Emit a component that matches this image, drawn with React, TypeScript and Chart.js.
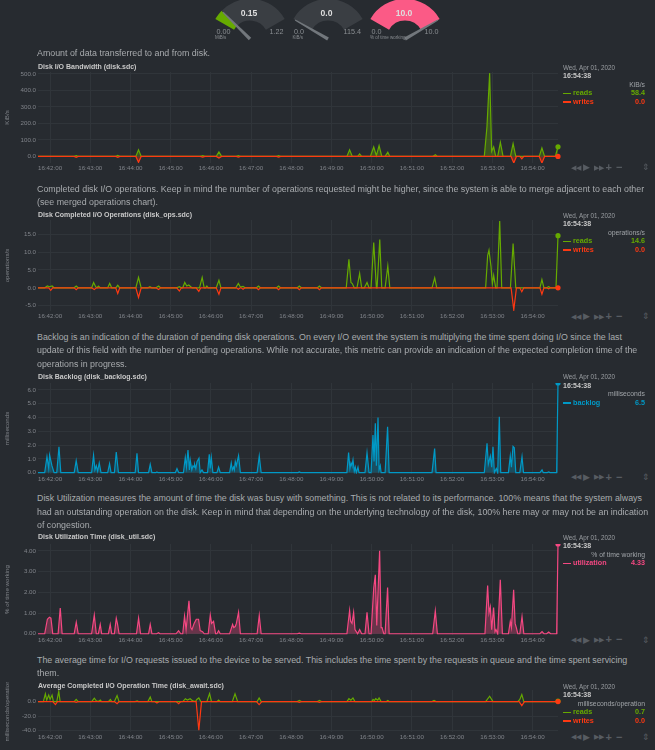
import React, { useEffect, useRef } from 'react';
import { Chart, registerables } from 'chart.js';

Chart.register(...registerables);

const FONT = "'Liberation Sans', Arial, Helvetica, sans-serif";
const BG = '#272b30';
const GRID = '#30353a';
const TICK = '#80848a';
const DESC = '#a8abae';
const TITLE = '#c8c8c8';
const BAND = '#3a3e43';
const NEEDLE = '#72777c';

const GREEN = '#66AA00';
const RED = '#FE3912';
const BLUE = '#0099C6';
const PINK = '#F54882';

// time axis: seconds relative to 16:42:00
const timeStart = -18;
const timeEnd = 758;
const xTickLabels = [
  '16:42:00', '16:43:00', '16:44:00', '16:45:00', '16:46:00', '16:47:00', '16:48:00',
  '16:49:00', '16:50:00', '16:51:00', '16:52:00', '16:53:00', '16:54:00',
];

const legendDate = 'Wed, Apr 01, 2020';
const legendTime = '16:54:38';

// gauges
const gaugeUnits = ['MiB/s', 'KiB/s', '% of time working'];
const gaugeValues = [0.15, 0.0, 10.0];
const gaugeMin = [0, 0, 0];
const gaugeMax = [1.22, 115.4, 10.0];
const gaugeDecimals = [2, 1, 1];
const gaugeColors = [GREEN, '#8a8a8a', '#fb5a86'];

// disk.sdc bandwidth, KiB/s  [seconds, value]
const bwReads: [number, number][] = [
  [-18, 0], [36, 0], [39, 5], [42, 0], [98, 0], [101, 6], [104, 0], [128, 0], [132, 40], [136, 0],
  [224, 0], [228, 5], [231, 0], [248, 0], [252, 27], [256, 0], [278, 0], [281, 5], [284, 0],
  [338, 0], [341, 5], [344, 0], [443, 0], [447, 40], [451, 0], [459, 0], [462, 15], [465, 0],
  [478, 0], [483, 57], [487, 5], [491, 65], [495, 0], [500, 0], [504, 25], [507, 0],
  [571, 0], [575, 10], [578, 0], [648, 0], [652, 180], [656, 505], [659, 30], [662, 57], [665, 0],
  [668, 0], [672, 85], [676, 0], [687, 0], [691, 77], [695, 0], [730, 0], [734, 51], [738, 0],
  [754, 0], [758, 58.4],
];
const bwWrites: [number, number][] = [
  [-18, 0], [36, 0], [39, -5], [42, 0], [98, 0], [101, -6], [104, 0], [128, 0], [132, -36], [136, 0],
  [224, 0], [228, -4], [231, 0], [248, 0], [252, -10], [256, 0], [278, 0], [281, -4], [284, 0],
  [338, 0], [341, -4], [344, 0], [688, 0], [692, -40], [696, 0], [701, 0], [704, -15], [707, 0],
  [730, 0], [734, -40], [738, 0], [758, 0],
];

// completed operations, operations/s
const opsReads: [number, number][] = [
  [-18, 0], [-8, 0], [-4, 0.5], [-1, 0.3], [3, 0.5], [6, 0], [36, 0], [39, 0.5], [42, 0],
  [62, 0], [65, 1.5], [68, 0.3], [70, 0], [72, 0.5], [75, 0], [86, 0], [89, 1.2], [92, 0],
  [98, 0], [101, 0.7], [104, 0], [128, 0], [132, 2.9], [136, 0], [146, 0], [149, 0.3], [152, 0],
  [158, 0], [162, 0.5], [165, 0], [189, 0], [193, 0.3], [196, 0],
  [198, 0], [201, 1.5], [204, 0.5], [207, 0.8], [210, 0.3], [212, 0],
  [223, 0], [227, 2.9], [230, 0], [232, 0], [234, 0.5], [236, 0], [248, 0], [252, 2.1], [255, 0],
  [277, 0], [281, 1.2], [284, 0.2], [288, 0.4], [291, 0], [308, 0], [311, 0.5], [314, 0],
  [338, 0], [341, 0.5], [344, 0], [369, 0], [372, 0.5], [375, 0], [399, 0], [402, 0.5], [405, 0],
  [442, 0], [446, 8], [449, 1.5], [451, 1.2], [454, 0], [458, 0], [462, 4], [465, 0],
  [469, 0], [473, 1.5], [476, 0], [479, 0], [483, 12.7], [487, 0], [488, 0], [492, 13.5], [495, 0],
  [500, 0], [504, 6.1], [507, 0], [570, 0], [574, 2.8], [577, 0],
  [650, 0], [653, 9], [655, 10.5], [658, 6], [660, 1], [662, 3.5], [665, 0],
  [667, 0], [671, 18.7], [674, 0], [687, 0], [691, 12.4], [695, 0],
  [731, 0], [734, 2.3], [737, 0], [741, 0], [744, 0.3], [747, 0], [755, 0], [758, 14.6],
];
const opsWrites: [number, number][] = [
  [-18, 0], [-2, 0], [1, -0.7], [4, 0], [36, 0], [39, -0.5], [42, 0], [62, 0], [66, -0.5], [69, 0],
  [98, 0], [101, -1.6], [104, 0], [128, 0], [132, -2.7], [136, 0], [158, 0], [162, -0.5], [165, 0],
  [189, 0], [193, -0.9], [196, 0], [218, 0], [222, -1], [225, 0], [248, 0], [252, -1.8], [255, 0],
  [278, 0], [281, -0.4], [284, 0], [285, 0], [288, -0.4], [291, 0], [308, 0], [311, -0.5], [314, 0],
  [338, 0], [341, -0.5], [344, 0], [369, 0], [372, -0.5], [375, 0], [399, 0], [402, -0.5], [405, 0],
  [688, 0], [692, -6.2], [696, 0], [701, 0], [704, -1.1], [707, 0], [731, 0], [734, -1.8], [737, 0],
  [741, 0], [744, -0.3], [747, 0], [758, 0],
];

// backlog, milliseconds
const backlog: [number, number][] = [
  [-18, 0], [-8, 0], [-4.6, 1.16], [-2, 0.3], [-0.7, 1.28], [2.8, 0.5], [6, 0], [10, 0], [13.3, 1.88], [16, 0],
  [36, 0], [39, 0.87], [42, 0], [62, 0], [64.9, 1.26], [67, 0.2], [69, 0.5], [71, 0.1], [73.4, 0.7], [76, 0],
  [86, 0], [88.8, 0.65], [91, 0], [96, 0], [98.8, 1.5], [102, 0], [127, 0], [129.7, 1.4], [132, 0],
  [147, 0], [149.5, 0.6], [152, 0], [158, 0], [159.5, 0.05], [161, 0], [187, 0], [189.4, 0.3], [192, 0],
  [199, 0], [201.8, 1.1], [203.5, 0.4], [205.8, 1.64], [208, 0.2], [209.2, 0.9], [211.5, 0.2], [213.3, 0.5],
  [215, 0.4], [215.7, 0.6], [217.5, 0.3], [219.3, 0.8], [222.2, 1.05], [224, 0], [226.7, 0.2], [229, 0],
  [235, 0], [237.6, 1.33], [239, 0.3], [240.6, 1.1], [243, 0], [249, 0], [251.5, 0.4], [254, 0],
  [268, 0], [270.4, 0.7], [272, 0.2], [273.9, 0.4], [275, 0.2], [276.4, 0.8], [278, 0.5], [281.3, 1.22], [284, 0],
  [309, 0], [312.2, 1.2], [315, 0], [370, 0], [372, 0.05], [374, 0],
  [443, 0], [445.5, 1.45], [447.5, 0.3], [449.1, 0.7], [450.5, 0.5], [452.1, 0.92], [454, 0.1], [455.5, 0.4], [457, 0],
  [458, 0], [459.5, 0.4], [461, 0], [470, 0], [473, 1.45], [476, 0],
  [479, 0], [481.9, 2.73], [483.5, 0.8], [485.4, 3.58], [487, 0.5], [489.4, 3.99], [491, 0.2], [492.8, 0.5], [494, 0],
  [500, 0], [503.7, 3.33], [506, 0], [570, 0], [573.9, 1.74], [576, 0],
  [648, 0], [652.1, 2.13], [654, 0.6], [657, 1.2], [659, 0.4], [661, 1.88], [663, 0], [666, 0.3], [668, 0],
  [670.4, 4.06], [672.5, 0], [684, 0], [686.8, 1.2], [688.5, 0.4], [690.9, 1.9], [692.8, 1.8], [695, 0],
  [701, 0], [704.3, 1.16], [706.5, 0], [731, 0], [734.2, 0.2], [736, 0], [742, 0], [744.1, 0.05], [746, 0],
  [756, 0], [758, 6.5],
];

// utilization, % of time working
const utilization: [number, number][] = [
  [-18, 0], [-8, 0], [-4, 0.7], [-1, 0.8], [1.3, 0.75], [4, 0], [12, 0], [15.2, 1.24], [18, 0],
  [36, 0], [39.1, 0.56], [42, 0], [62, 0], [66, 0.9], [69, 0], [72, 0], [74.9, 0.45], [77, 0],
  [87, 0], [89.8, 0.45], [92, 0], [96, 0], [98.8, 0.75], [100.5, 0.5], [103, 0], [129, 0], [132.1, 0.75], [135, 0],
  [147, 0], [149.5, 0.45], [152, 0], [159, 0], [161.9, 0.05], [164, 0], [188, 0], [191.8, 0.15], [195, 0],
  [198, 0], [200.7, 0.85], [203, 0.2], [207.3, 1.59], [210, 0.3], [211.8, 0.2], [215, 0.5], [218.2, 0.7],
  [221.6, 0.7], [224, 0.15], [227.6, 0.1], [230, 0], [236, 0], [239.1, 0.9], [241, 0.5], [244, 0.6], [247, 0],
  [249, 0], [251.5, 0.15], [254, 0], [268, 0], [272.4, 0.45], [274, 0.3], [276.4, 0.35], [278, 0.5], [281.3, 1.04], [284, 0],
  [309, 0], [312.2, 0.88], [315, 0], [369, 0], [371.9, 0.03], [375, 0],
  [443, 0], [447, 1.12], [448.5, 0.6], [450.6, 0.5], [453, 1.03], [455, 0.2], [457, 0.1], [459, 0], [462, 0.2], [465, 0],
  [470, 0], [473, 1.03], [476, 0], [479, 0], [483, 2.2], [485.4, 2.84], [487.5, 0.4], [491.8, 4.0], [494, 0.3],
  [495.4, 0.3], [498, 0], [500, 0], [503.7, 2.23], [506, 0], [571, 0], [574.9, 1.1], [578, 0],
  [649, 0], [653, 2.33], [655, 1.0], [657, 1.3], [659, 0.2], [661.9, 1.27], [664, 0.1], [665.5, 0.2], [668, 0],
  [671.9, 2.6], [675, 0], [684, 0], [686.8, 0.6], [688.5, 0.3], [691.8, 2.12], [694, 0.5], [695.8, 0.3], [698, 0],
  [701, 0], [704.3, 0.83], [707, 0], [731, 0], [734.2, 0.1], [737, 0], [741, 0], [744.1, 0.08], [747, 0],
  [756, 0], [758, 4.33],
];

// average completed operation time, milliseconds/operation
const awaitReads: [number, number][] = [
  [-18, 0], [-10, 0], [-7, 10.6], [-5, 2], [-2, 9], [0, 3], [3, 9], [5, 0], [10, 0], [13, 14.2], [15, 0],
  [36, 0], [39, 3], [42, 0], [62, 0], [66, 4.6], [69, 1], [72, 0], [75, 2], [77, 0], [87, 0], [90, 3], [92, 0],
  [96, 0], [100, 8.3], [103, 0], [127, 0], [130, 1], [132, 0], [146, 0], [149.5, 6.4], [152, 0],
  [198, 0], [202, 4], [205, 2], [209, 4], [213, 1], [217, 0], [219, 3], [222, 5], [225, 0],
  [234, 0], [238, 11], [241, 0], [249, 0], [251.5, 2], [254, 0], [272, 0], [276, 10.6], [280, 0],
  [309, 0], [312, 5], [315, 0], [369, 0], [372, 1.5], [375, 0], [399, 0], [402, 1.5], [405, 0],
  [443, 0], [446, 4], [449, 2], [452, 5], [455, 0],
  [480, 0], [482, 3], [484, 1.5], [486, 4], [489, 2], [491, 5], [494, 0], [502, 0], [504, 1.5], [506, 0],
  [570, 0], [573, 1.5], [576, 0], [650, 0], [656, 7.4], [661, 0], [698, 0], [701, 3], [704, 9.7], [707, 0],
  [755, 0], [758, 0.7],
];
const awaitWrites: [number, number][] = [
  [-18, 0], [4, 0], [8, -4.1], [11, 0], [36, 0], [39, -1], [42, 0], [96, 0], [100, -3], [103, 0],
  [156, 0], [159.5, -2], [163, 0], [188, 0], [192, -2.8], [195, 0],
  [218, 0], [222, -39.6], [226, 0],
  [308, 0], [312, -4.1], [316, 0], [369, 0], [372, -1], [375, 0], [399, 0], [402, -1], [405, 0],
  [700, 0], [704, -5.5], [708, 0], [758, 0],
];

type Series = { name: string; color: string; points: [number, number][]; fill: boolean; order: number };

function rgba(hex: string, a: number) {
  const n = parseInt(hex.slice(1), 16);
  return `rgba(${(n >> 16) & 255},${(n >> 8) & 255},${n & 255},${a})`;
}

function Label(props: {
  x: number; y: number; size: number; color: string; bold?: boolean;
  align?: 'left' | 'right' | 'center'; children: React.ReactNode;
}) {
  const { x, y, size, color, bold, align = 'left', children } = props;
  const style: React.CSSProperties = {
    position: 'absolute',
    top: y - size * 0.6,
    fontSize: size,
    lineHeight: `${size * 1.2}px`,
    color,
    fontWeight: bold ? 700 : 400,
    whiteSpace: 'nowrap',
  };
  if (align === 'right') style.right = 655 - x;
  else style.left = x;
  if (align === 'center') style.transform = 'translateX(-50%)';
  return <div style={style}>{children}</div>;
}

// chart navigation buttons shown under each legend
function Controls({ y }: { y: number }) {
  const c = '#575c62';
  return (
    <>
      <Label x={571} y={y} size={7} color={c}>◀◀</Label>
      <Label x={582.5} y={y} size={9} color={c}>▶</Label>
      <Label x={593.5} y={y} size={7} color={c}>▶▶</Label>
      <Label x={605.5} y={y} size={11} bold color={c}>+</Label>
      <Label x={616} y={y} size={11} bold color={c}>−</Label>
      <Label x={642} y={y} size={9} color={c}>⇕</Label>
    </>
  );
}

type ChartProps = {
  top: number; height: number; titleY: number; descY: number; desc: string[];
  title: string; units: string; yTitle: string; series: Series[];
  yMin: number; yMax: number; yStep: number; yDecimals: number; valueDecimals: number; controlsY: number;
};

function DiskChart(p: ChartProps) {
  const ref = useRef<HTMLCanvasElement>(null);
  useEffect(() => {
    const canvas = ref.current;
    if (!canvas) return;
    const chart = new Chart(canvas, {
      type: 'line',
      data: {
        datasets: p.series.map((s) => ({
          label: s.name,
          data: s.points.map(([x, y]) => ({ x, y })),
          borderColor: s.color,
          backgroundColor: s.fill ? rgba(s.color, 0.32) : 'transparent',
          fill: s.fill ? 'origin' : false,
          borderWidth: 1.2,
          tension: 0,
          order: s.order,
          pointRadius: (c: any) => (c.dataIndex === s.points.length - 1 ? 2.6 : 0),
          pointBackgroundColor: s.color,
          pointBorderColor: s.color,
          pointBorderWidth: 0,
          pointHoverRadius: 0,
          clip: { left: 0, top: 0, right: 6, bottom: 0 },
        })),
      },
      options: {
        animation: false,
        responsive: false,
        maintainAspectRatio: false,
        events: [],
        layout: { padding: { top: 8, right: 4, bottom: 0, left: 0 } },
        plugins: { legend: { display: false }, tooltip: { enabled: false } },
        scales: {
          x: {
            type: 'linear',
            min: timeStart,
            max: timeEnd,
            grid: { color: GRID, drawTicks: false },
            border: { display: false },
            ticks: {
              stepSize: 60,
              includeBounds: false,
              autoSkip: false,
              maxRotation: 0,
              padding: 2,
              color: TICK,
              font: { family: FONT, size: 6.2 },
              callback: (v: any) => xTickLabels[Math.round(Number(v) / 60)] ?? '',
            },
            afterFit: (s: any) => { s.height = 12; },
          },
          y: {
            min: p.yMin,
            max: p.yMax,
            grid: { color: GRID, drawTicks: false },
            border: { display: false },
            ticks: {
              stepSize: p.yStep,
              includeBounds: false,
              padding: 2,
              color: TICK,
              font: { family: FONT, size: 6.2 },
              callback: (v: any) => Number(v).toFixed(p.yDecimals),
            },
            title: {
              display: true,
              text: p.yTitle,
              color: TICK,
              font: { family: FONT, size: 6.2 },
              padding: { top: 4, bottom: 0 },
            },
            afterFit: (s: any) => { s.width = 38; },
          },
        },
      },
    } as any);
    return () => chart.destroy();
  }, []);

  const rows = [...p.series].sort((a, b) => b.order - a.order);
  return (
    <>
      <canvas ref={ref} width={562} height={p.height}
        style={{ position: 'absolute', left: 0, top: p.top, width: 562, height: p.height }} />
      {p.desc.map((line, i) => (
        <Label key={i} x={37} y={p.descY + i * 13.3} size={8.85} color={DESC}>{line}</Label>
      ))}
      <Label x={38} y={p.titleY} size={7} bold color={TITLE}>{p.title}</Label>
      <Label x={563} y={p.titleY + 0.5} size={6.3} color="#9a9ea2">{legendDate}</Label>
      <Label x={563} y={p.titleY + 9} size={7} bold color="#c8c8c8">{legendTime}</Label>
      <Label x={645} align="right" y={p.titleY + 17.7} size={6.8} color="#a0a4a8">{p.units}</Label>
      {rows.map((s, i) => {
        const y = p.titleY + 26.3 + i * 8.7;
        const last = s.points[s.points.length - 1][1];
        return (
          <React.Fragment key={s.name}>
            <div style={{ position: 'absolute', left: 563, top: y - 0.75, width: 8, height: 1.5, background: s.color }} />
            <Label x={573} y={y} size={7.2} bold color={s.color}>{s.name}</Label>
            <Label x={645} align="right" y={y} size={7.2} bold color={s.color}>{last.toFixed(p.valueDecimals)}</Label>
          </React.Fragment>
        );
      })}
      <Controls y={p.controlsY} />
    </>
  );
}

function Gauge({ index, cx, cy }: { index: number; cx: number; cy: number }) {
  const ref = useRef<HTMLCanvasElement>(null);
  const r = 40;
  useEffect(() => {
    const canvas = ref.current;
    if (!canvas) return;
    const v = gaugeValues[index];
    const mn = gaugeMin[index];
    const mx = gaugeMax[index];
    const needle = {
      id: 'needle',
      afterDatasetsDraw(chart: any) {
        const arc = chart.getDatasetMeta(0).data[0];
        const { x, y, outerRadius } = arc;
        const frac = (v - mn) / (mx - mn);
        const ang = ((-150 + 120 * frac) * Math.PI) / 180;
        const len = outerRadius * 0.95;
        const px = -Math.sin(ang);
        const py = Math.cos(ang);
        const tx = x + Math.cos(ang) * len;
        const ty = y + Math.sin(ang) * len;
        const ctx = chart.ctx;
        ctx.save();
        ctx.fillStyle = NEEDLE;
        ctx.beginPath();
        ctx.moveTo(x + px * 1.7, y + py * 1.7);
        ctx.lineTo(tx + px * 0.6, ty + py * 0.6);
        ctx.lineTo(tx - px * 0.6, ty - py * 0.6);
        ctx.lineTo(x - px * 1.7, y - py * 1.7);
        ctx.closePath();
        ctx.fill();
        ctx.restore();
      },
    };
    const chart = new Chart(canvas, {
      type: 'doughnut',
      data: {
        datasets: [{
          data: [v - mn, mx - v, 2 * (mx - mn)],
          backgroundColor: [gaugeColors[index], BAND, 'rgba(0,0,0,0)'],
          borderWidth: 0,
          hoverOffset: 0,
        }],
      },
      options: {
        animation: false,
        responsive: false,
        events: [],
        rotation: -60,
        circumference: 360,
        cutout: '46%',
        layout: { padding: 0 },
        plugins: { legend: { display: false }, tooltip: { enabled: false } },
      },
      plugins: [needle],
    } as any);
    return () => chart.destroy();
  }, [index]);

  const d = gaugeDecimals[index];
  return (
    <>
      <canvas ref={ref} width={2 * r} height={2 * r}
        style={{ position: 'absolute', left: cx - r, top: cy - r, width: 2 * r, height: 2 * r }} />
      <Label x={cx - 1} y={12.7} size={8.6} bold align="center" color="#dedede">{gaugeValues[index].toFixed(d)}</Label>
      <Label x={cx - 33.5} y={32.3} size={7.2} color="#8a8e92">{gaugeMin[index].toFixed(d)}</Label>
      <Label x={cx + 33.5} y={32.3} size={7.2} align="right" color="#8a8e92">{gaugeMax[index].toFixed(d)}</Label>
      <Label x={cx - 35} y={38} size={4.5} color="#8a8e92">{gaugeUnits[index]}</Label>
    </>
  );
}

export default function App() {
  return (
    <div style={{
      position: 'absolute', left: 0, top: 0, width: 655, height: 750, overflow: 'hidden',
      background: BG, fontFamily: FONT,
    }}>
      <Gauge index={0} cx={250} cy={39} />
      <Gauge index={1} cx={327.5} cy={39} />
      <Gauge index={2} cx={405} cy={39} />

      <DiskChart
        top={64} height={111} titleY={67} descY={53.3}
        desc={['Amount of data transferred to and from disk.']}
        title="Disk I/O Bandwidth (disk.sdc)" units="KiB/s" yTitle="KiB/s"
        series={[
          { name: 'reads', color: GREEN, points: bwReads, fill: true, order: 1 },
          { name: 'writes', color: RED, points: bwWrites, fill: true, order: 0 },
        ]}
        yMin={-40} yMax={512} yStep={100} yDecimals={1} valueDecimals={1} controlsY={167.7}
      />

      <DiskChart
        top={212} height={111} titleY={215} descY={189.3}
        desc={[
          'Completed disk I/O operations. Keep in mind the number of operations requested might be higher, since the system is able to merge adjacent to each other',
          '(see merged operations chart).',
        ]}
        title="Disk Completed I/O Operations (disk_ops.sdc)" units="operations/s" yTitle="operations/s"
        series={[
          { name: 'reads', color: GREEN, points: opsReads, fill: false, order: 1 },
          { name: 'writes', color: RED, points: opsWrites, fill: false, order: 0 },
        ]}
        yMin={-6.5} yMax={19} yStep={5} yDecimals={1} valueDecimals={1} controlsY={316.7}
      />

      <DiskChart
        top={375} height={111} titleY={376.7} descY={337.3}
        desc={[
          'Backlog is an indication of the duration of pending disk operations. On every I/O event the system is multiplying the time spent doing I/O since the last',
          'update of this field with the number of pending operations. While not accurate, this metric can provide an indication of the expected completion time of the',
          'operations in progress.',
        ]}
        title="Disk Backlog (disk_backlog.sdc)" units="milliseconds" yTitle="milliseconds"
        series={[{ name: 'backlog', color: BLUE, points: backlog, fill: true, order: 0 }]}
        yMin={-0.1} yMax={6.5} yStep={1} yDecimals={1} valueDecimals={1} controlsY={477.5}
      />

      <DiskChart
        top={536} height={111} titleY={537.3} descY={498.8}
        desc={[
          'Disk Utilization measures the amount of time the disk was busy with something. This is not related to its performance. 100% means that the system always',
          'had an outstanding operation on the disk. Keep in mind that depending on the underlying technology of the disk, 100% here may or may not be an indication',
          'of congestion.',
        ]}
        title="Disk Utilization Time (disk_util.sdc)" units="% of time working" yTitle="% of time working"
        series={[{ name: 'utilization', color: PINK, points: utilization, fill: true, order: 0 }]}
        yMin={-0.06} yMax={4.33} yStep={1} yDecimals={2} valueDecimals={2} controlsY={640}
      />

      <DiskChart
        top={682} height={62} titleY={686} descY={660}
        desc={[
          'The average time for I/O requests issued to the device to be served. This includes the time spent by the requests in queue and the time spent servicing',
          'them.',
        ]}
        title="Average Completed I/O Operation Time (disk_await.sdc)" units="milliseconds/operation"
        yTitle="milliseconds/operation"
        series={[
          { name: 'reads', color: GREEN, points: awaitReads, fill: false, order: 1 },
          { name: 'writes', color: RED, points: awaitWrites, fill: false, order: 0 },
        ]}
        yMin={-42} yMax={16} yStep={20} yDecimals={1} valueDecimals={1} controlsY={737.5}
      />
    </div>
  );
}
